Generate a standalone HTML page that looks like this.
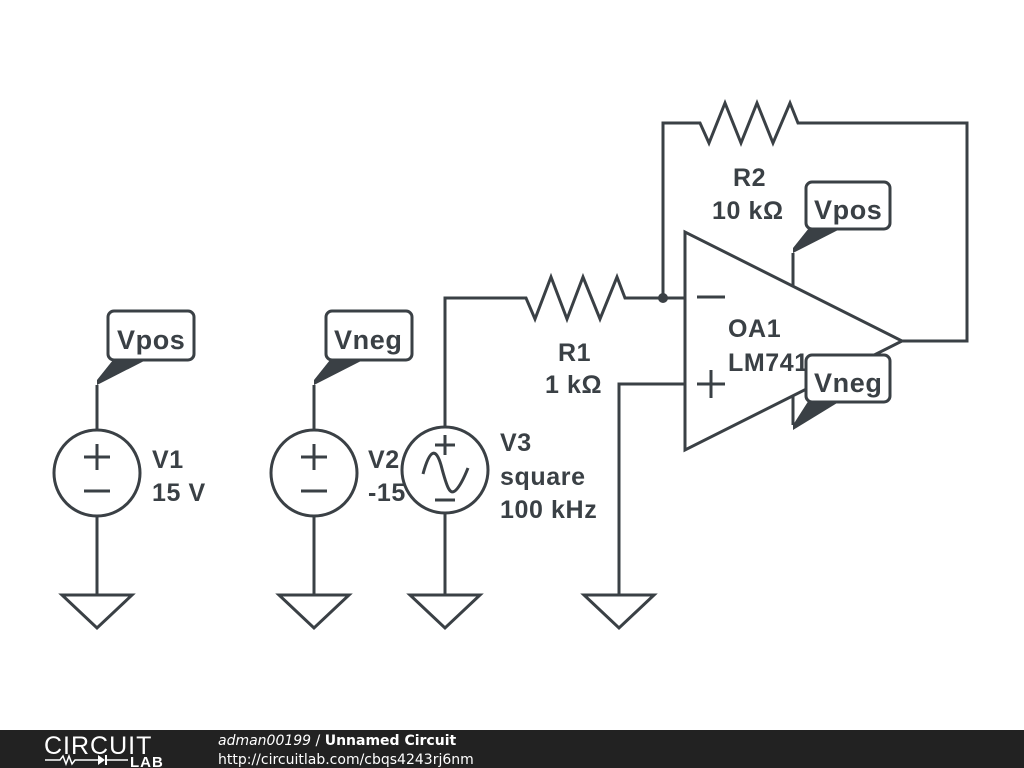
<!DOCTYPE html>
<html><head><meta charset="utf-8"><style>
html,body{margin:0;padding:0;background:#fff;}
svg{display:block}
text{font-family:"Liberation Sans",sans-serif;font-weight:bold;font-size:25px;letter-spacing:0.6px;fill:#3a4045}
</style></head><body>
<svg width="1024" height="768" viewBox="0 0 1024 768">
<g fill="none" stroke="#3a4045" stroke-width="3" stroke-linejoin="miter">
<line x1="97" y1="385" x2="97" y2="430"/>
<circle cx="97" cy="473" r="43" fill="#fff"/>
<line x1="84" y1="457" x2="110" y2="457"/><line x1="97" y1="444" x2="97" y2="470"/>
<line x1="84" y1="491" x2="110" y2="491"/>
<line x1="97" y1="516" x2="97" y2="595"/>
<polygon points="62,595 132,595 97,628"/>
<line x1="314" y1="385" x2="314" y2="430"/>
<line x1="314" y1="516" x2="314" y2="595"/>
<polygon points="279,595 349,595 314,628"/>
</g>
<text x="152" y="468">V1</text><text x="152" y="501">15 V</text>
<text x="368" y="468">V2</text><text x="368" y="501">-15 V</text>
<g fill="none" stroke="#3a4045" stroke-width="3">
<circle cx="314" cy="473" r="43" fill="#fff"/>
<line x1="301" y1="457" x2="327" y2="457"/><line x1="314" y1="444" x2="314" y2="470"/>
<line x1="301" y1="491" x2="327" y2="491"/>
<polyline points="445,427 445,298 526,298 535,319 551,277 567,319 583,277 600,319 617,277 625,298 685,298"/>
<circle cx="445" cy="470" r="43" fill="#fff"/>
<line x1="435" y1="445" x2="455" y2="445"/><line x1="445" y1="435" x2="445" y2="455"/>
<line x1="435" y1="500" x2="455" y2="500"/>
<path d="M423,474 C430,448 436,448 441,465 C447,488 450,496 456,490 C460,486 464,478 468,468"/>
<line x1="445" y1="513" x2="445" y2="595"/>
<polygon points="410,595 480,595 445,628"/>
<polyline points="685,384 619,384 619,595"/>
<polygon points="584,595 654,595 619,628"/>
<polyline points="663,298 663,123 700,123 709,143 725,103 741,143 757,103 773,143 790,103 798,123 967,123 967,341 902,341"/>
<polygon points="685,232 685,450 902,341" fill="#fff"/>
<line x1="697" y1="297" x2="725" y2="297"/>
<line x1="697" y1="384" x2="725" y2="384"/><line x1="711" y1="370" x2="711" y2="398"/>
<line x1="793" y1="286" x2="793" y2="253"/>
<line x1="793" y1="396" x2="793" y2="425"/>
</g>
<circle cx="663" cy="298" r="5" fill="#3a4045"/>
<text x="728" y="337">OA1</text><text x="728" y="371">LM741</text>
<text x="558" y="361">R1</text><text x="545" y="393">1 kΩ</text>
<text x="733" y="186">R2</text><text x="712" y="219">10 kΩ</text>
<text x="500" y="451">V3</text><text x="500" y="485">square</text><text x="500" y="518">100 kHz</text>
<g fill="#3a4045">
<polygon points="97,385 97,380 113,360 146,360"/>
<polygon points="314,385 314,380 330,360 363,360"/>
<polygon points="793,253 793,248 809,228 842,228"/>
<polygon points="793,425 809,400 842,400 793,430"/>
</g>
<g fill="#fff" stroke="#3a4045" stroke-width="3">
<rect x="108" y="311" width="86" height="49" rx="6"/>
<rect x="326" y="311" width="86" height="49" rx="6"/>
<rect x="806" y="182" width="84" height="47" rx="6"/>
<rect x="806" y="355" width="84" height="47" rx="6"/>
</g>
<text x="117" y="349" style="font-size:27px">Vpos</text>
<text x="334" y="349" style="font-size:27px">Vneg</text>
<text x="814" y="219" style="font-size:27px">Vpos</text>
<text x="814" y="392" style="font-size:27px">Vneg</text>
<rect x="0" y="730" width="1024" height="38" fill="#222"/>
<text x="44" y="754" style="font-weight:normal;font-size:25px;fill:#fff;letter-spacing:1px">CIRCUIT</text>
<g stroke="#fff" stroke-width="1.5" fill="none">
<polyline points="45,760 60,760 63,756 66,764 69,756 72,764 75,760 98,760"/>
<line x1="106" y1="760" x2="128" y2="760"/>
</g>
<polygon points="98,755 98,765 105,760" fill="#fff"/>
<line x1="106" y1="755" x2="106" y2="765" stroke="#fff" stroke-width="2"/>
<text x="130" y="767" style="font-size:15px;fill:#fff;letter-spacing:1px">LAB</text>
<text x="218" y="745" style="font-family:'DejaVu Sans',sans-serif;font-size:14px;fill:#fff;font-weight:normal;font-style:italic;letter-spacing:0">adman00199 <tspan font-style="normal">/</tspan> <tspan font-weight="bold" font-style="normal">Unnamed Circuit</tspan></text>
<text x="218" y="764" style="font-family:'DejaVu Sans',sans-serif;font-size:14px;fill:#fff;font-weight:normal;letter-spacing:0">http://circuitlab.com/cbqs4243rj6nm</text>
</svg>
</body></html>
